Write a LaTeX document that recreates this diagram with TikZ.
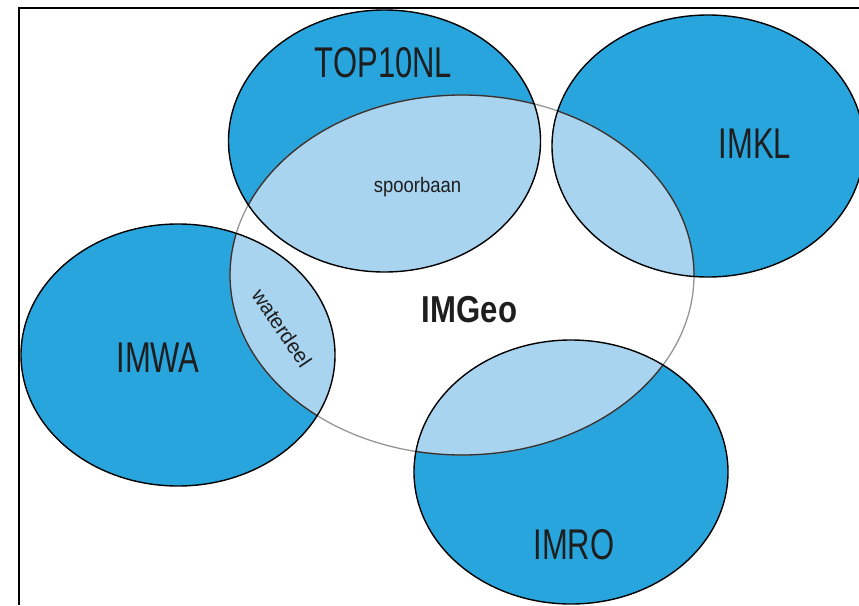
\documentclass[tikz,border=0pt]{standalone}
\usepackage{fontspec}
\setmainfont{Liberation Sans}
\definecolor{imblue}{RGB}{41,165,222}
\definecolor{imlight}{RGB}{169,212,240}
\definecolor{geogray}{RGB}{150,150,150}
\definecolor{inktext}{RGB}{30,30,30}
\def\eTop{(384.5,141) ellipse [x radius=156pt, y radius=131pt]}
\def\eKl{(708,146) ellipse [x radius=156pt, y radius=131pt]}
\def\eWa{(178,355) ellipse [x radius=157pt, y radius=131pt]}
\def\eRo{(571,472) ellipse [x radius=157pt, y radius=132pt]}
\def\eGeo{(462,275) ellipse [x radius=232pt, y radius=180pt]}
\tikzset{
  biglabel/.style={inner sep=0pt, anchor=base, text=inktext, font=\fontsize{43}{43}\selectfont},
  smalllabel/.style={inner sep=0pt, text=inktext, font=\fontsize{21}{21}\selectfont},
  blueline/.style={draw=black, line width=1.4pt},
}
\begin{document}
\begin{tikzpicture}[x=1pt,y=-1pt]
\useasboundingbox (0,0) rectangle (859,605);
\fill[white] (0,0) rectangle (859,605);
% blue sets
\fill[imblue] \eTop;
\fill[imblue] \eKl;
\fill[imblue] \eWa;
\fill[imblue] \eRo;
% IMGeo
\fill[white] \eGeo;
\begin{scope}\clip \eGeo; \fill[imlight] \eTop; \end{scope}
\begin{scope}\clip \eGeo; \fill[imlight] \eKl; \end{scope}
\begin{scope}\clip \eGeo; \fill[imlight] \eWa; \end{scope}
\begin{scope}\clip \eGeo; \fill[imlight] \eRo; \end{scope}
\draw[geogray, line width=1.3pt] \eGeo;
\begin{scope}\clip \eTop; \draw[black!80, line width=1.3pt] \eGeo; \end{scope}
\begin{scope}\clip \eKl; \draw[black!80, line width=1.3pt] \eGeo; \end{scope}
\begin{scope}\clip \eWa; \draw[black!80, line width=1.3pt] \eGeo; \end{scope}
\begin{scope}\clip \eRo; \draw[black!80, line width=1.3pt] \eGeo; \end{scope}
\path[blueline] \eTop;
\path[blueline] \eKl;
\path[blueline] \eWa;
\path[blueline] \eRo;
% frame
\coordinate (fa) at (19,605);
\coordinate (fb) at (19,8);
\coordinate (fc) at (859,8);
\draw[line width=2pt] (fa) -- (fb) -- (fc);
% labels
\node[biglabel] (top10) at (383.5,77) {\scalebox{0.72}[1]{TOP10NL}};
\node[biglabel] (imkl) at (755,158) {\scalebox{0.72}[1]{IMKL}};
\node[biglabel] (imwa) at (158,372) {\scalebox{0.72}[1]{IMWA}};
\node[biglabel] (imro) at (574,559) {\scalebox{0.72}[1]{IMRO}};
\node[inner sep=0pt, anchor=base, text=inktext, font=\fontsize{37.5}{37.5}\selectfont\bfseries] (imgeo) at (469.5,322) {\scalebox{0.83}[1]{IMGeo}};
\node[smalllabel, anchor=base] (spoor) at (417.5,192) {\scalebox{0.88}[1]{spoorbaan}};
\node[smalllabel, rotate=-56] (water) at (282,328) {\scalebox{0.98}[1]{waterdeel}};
\end{tikzpicture}
\end{document}
